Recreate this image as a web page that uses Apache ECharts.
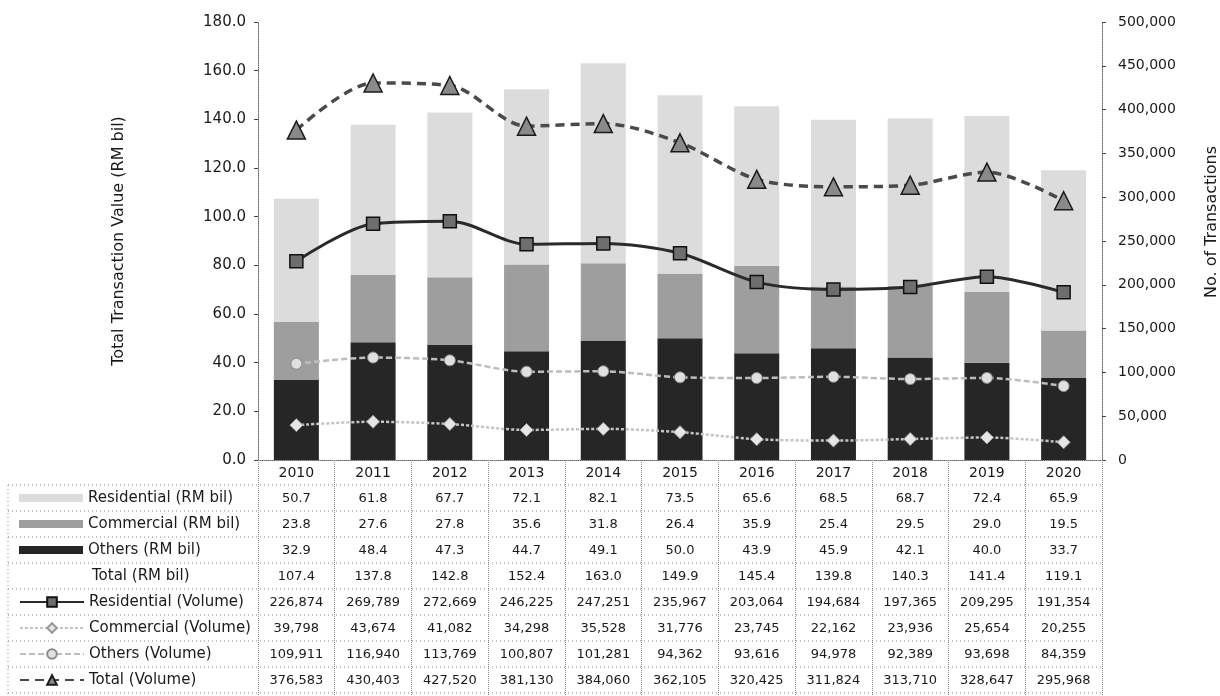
<!DOCTYPE html>
<html>
<head>
<meta charset="utf-8">
<script src="https://cdn.jsdelivr.net/npm/echarts@6/dist/echarts.min.js"></script>
<style>
  html, body { margin: 0; padding: 0; background: #fff; }
  #chart { width: 1220px; height: 696px; }
</style>
</head>
<body>
<div id="chart"></div>
<script>
// categories
const years = ['2010', '2011', '2012', '2013', '2014', '2015', '2016', '2017', '2018', '2019', '2020']

// transaction value, RM bil
const residentialValue = [50.7, 61.8, 67.7, 72.1, 82.1, 73.5, 65.6, 68.5, 68.7, 72.4, 65.9]
const commercialValue = [23.8, 27.6, 27.8, 35.6, 31.8, 26.4, 35.9, 25.4, 29.5, 29.0, 19.5]
const othersValue = [32.9, 48.4, 47.3, 44.7, 49.1, 50.0, 43.9, 45.9, 42.1, 40.0, 33.7]
const totalValue = [107.4, 137.8, 142.8, 152.4, 163.0, 149.9, 145.4, 139.8, 140.3, 141.4, 119.1]

// number of transactions
const residentialVolume = [226874, 269789, 272669, 246225, 247251, 235967, 203064, 194684, 197365, 209295, 191354]
const commercialVolume = [39798, 43674, 41082, 34298, 35528, 31776, 23745, 22162, 23936, 25654, 20255]
const othersVolume = [109911, 116940, 113769, 100807, 101281, 94362, 93616, 94978, 92389, 93698, 84359]
const totalVolume = [376583, 430403, 427520, 381130, 384060, 362105, 320425, 311824, 313710, 328647, 295968]

// axis ticks
const leftTicks = { min: 0, max: 180, interval: 20 }
const rightTicks = { min: 0, max: 500000, interval: 50000 }

const font = 'DejaVu Sans'
const ink = '#1a1a1a'
const rule = '#8a8a8a'

const fmtBil = v => v.toFixed(1)
const fmtVol = v => v.toLocaleString('en-US')

const tableRows = [
  residentialValue.map(fmtBil),
  commercialValue.map(fmtBil),
  othersValue.map(fmtBil),
  totalValue.map(fmtBil),
  residentialVolume.map(fmtVol),
  commercialVolume.map(fmtVol),
  othersVolume.map(fmtVol),
  totalVolume.map(fmtVol)
]

// table layout
const tableTop = 485
const rowH = 26
const plotRight = 1102
const tableLeft = 8

const chart = echarts.init(document.getElementById('chart'))

const rowRules = []
for (let i = 0; i < 9; i++) {
  const y = tableTop + i * rowH
  rowRules.push({
    type: 'line',
    shape: { x1: tableLeft, y1: y, x2: plotRight, y2: y },
    style: { stroke: rule, lineWidth: 1, lineDash: [1, 3] }
  })
}

chart.setOption({
  animation: false,
  textStyle: { fontFamily: font, color: ink },
  grid: { left: 258, right: 118, top: 22, bottom: 236, outerBoundsMode: 'none' },
  legend: [
    {
      selectedMode: false,
      orient: 'vertical',
      left: 19,
      top: tableTop,
      padding: 0,
      itemGap: 0,
      itemWidth: 64,
      itemHeight: 8,
      icon: 'rect',
      textStyle: { fontFamily: font, fontSize: 15, lineHeight: rowH, color: ink },
      data: ['Residential (RM bil)', 'Commercial (RM bil)', 'Others (RM bil)']
    },
    {
      selectedMode: false,
      orient: 'vertical',
      left: 19,
      top: tableTop + 4 * rowH,
      padding: 0,
      itemGap: 0,
      itemWidth: 64,
      itemHeight: 12,
      textStyle: { fontFamily: font, fontSize: 15, lineHeight: rowH, color: ink },
      data: ['Residential (Volume)', 'Commercial (Volume)', 'Others (Volume)', 'Total (Volume)']
    }
  ],
  xAxis: {
    type: 'category',
    data: years,
    axisLine: { lineStyle: { color: '#666', type: 'dotted' } },
    axisTick: { show: true, length: 236, lineStyle: { color: rule, type: 'dotted' } },
    axisLabel: {
      interval: 0,
      margin: 0,
      hideOverlap: false,
      formatter: (year, idx) => {
        let s = `{y|${year}}`
        tableRows.forEach(r => { s += `\n{v|${r[idx]}}` })
        return s
      },
      rich: {
        y: { fontFamily: font, fontSize: 14, lineHeight: rowH, color: ink },
        v: { fontFamily: font, fontSize: 13, lineHeight: rowH, color: ink }
      }
    }
  },
  yAxis: [
    {
      type: 'value',
      ...leftTicks,
      name: 'Total Transaction Value (RM bil)',
      nameLocation: 'middle',
      nameGap: 131,
      nameTextStyle: { fontFamily: font, fontSize: 16, color: ink },
      axisLine: { show: true, lineStyle: { color: '#666', type: 'dotted' } },
      axisTick: { show: true, length: 4, lineStyle: { color: '#444' } },
      axisLabel: { formatter: v => v.toFixed(1), fontSize: 15, margin: 12, color: ink },
      splitLine: { show: false }
    },
    {
      type: 'value',
      position: 'right',
      ...rightTicks,
      axisLine: { show: true, lineStyle: { color: '#666', type: 'dotted' } },
      axisTick: { show: true, length: 4, lineStyle: { color: '#444' } },
      axisLabel: { formatter: v => v.toLocaleString('en-US'), fontSize: 14, margin: 16, color: ink },
      splitLine: { show: false }
    }
  ],
  graphic: [
    ...rowRules,
    {
      type: 'line',
      shape: { x1: tableLeft, y1: tableTop, x2: tableLeft, y2: 696 },
      style: { stroke: rule, lineWidth: 1, lineDash: [1, 3] }
    },
    {
      type: 'text',
      x: 92,
      y: tableTop + 3 * rowH + rowH / 2,
      style: { text: 'Total (RM bil)', fontFamily: font, fontSize: 15, fill: ink, verticalAlign: 'middle' }
    },
    {
      type: 'text',
      x: 1212,
      y: 222,
      rotation: Math.PI / 2,
      style: { text: 'No. of Transactions', fontFamily: font, fontSize: 16, fill: ink, align: 'center', verticalAlign: 'middle' }
    }
  ],
  series: [
    {
      name: 'Others (RM bil)',
      type: 'bar',
      stack: 'value',
      barWidth: 45,
      data: othersValue,
      itemStyle: { color: '#262626' }
    },
    {
      name: 'Commercial (RM bil)',
      type: 'bar',
      stack: 'value',
      barWidth: 45,
      data: commercialValue,
      itemStyle: { color: '#9e9e9e' }
    },
    {
      name: 'Residential (RM bil)',
      type: 'bar',
      stack: 'value',
      barWidth: 45,
      data: residentialValue,
      itemStyle: { color: '#dcdcdc' }
    },
    {
      name: 'Residential (Volume)',
      type: 'line',
      yAxisIndex: 1,
      smooth: 0.3,
      data: residentialVolume,
      symbol: 'rect',
      symbolSize: 13,
      lineStyle: { color: '#2a2a2a', width: 3 },
      itemStyle: { color: '#6e6e6e', borderColor: '#111', borderWidth: 1.5 }
    },
    {
      name: 'Commercial (Volume)',
      type: 'line',
      yAxisIndex: 1,
      smooth: 0.3,
      data: commercialVolume,
      symbol: 'diamond',
      symbolSize: 13,
      lineStyle: { color: '#c4c4c4', width: 2.5, type: [3, 2] },
      itemStyle: { color: '#e6e6e6', borderColor: '#9a9a9a', borderWidth: 1 }
    },
    {
      name: 'Others (Volume)',
      type: 'line',
      yAxisIndex: 1,
      smooth: 0.3,
      data: othersVolume,
      symbol: 'circle',
      symbolSize: 11,
      lineStyle: { color: '#bdbdbd', width: 2.5, type: [6, 3] },
      itemStyle: { color: '#e0e0e0', borderColor: '#8a8a8a', borderWidth: 1 }
    },
    {
      name: 'Total (Volume)',
      type: 'line',
      yAxisIndex: 1,
      smooth: 0.3,
      data: totalVolume,
      symbol: 'triangle',
      symbolSize: 18,
      lineStyle: { color: '#4a4a4a', width: 3.5, type: [9, 6] },
      itemStyle: { color: '#8a8a8a', borderColor: '#1a1a1a', borderWidth: 1.5 }
    }
  ]
})
</script>
</body>
</html>
